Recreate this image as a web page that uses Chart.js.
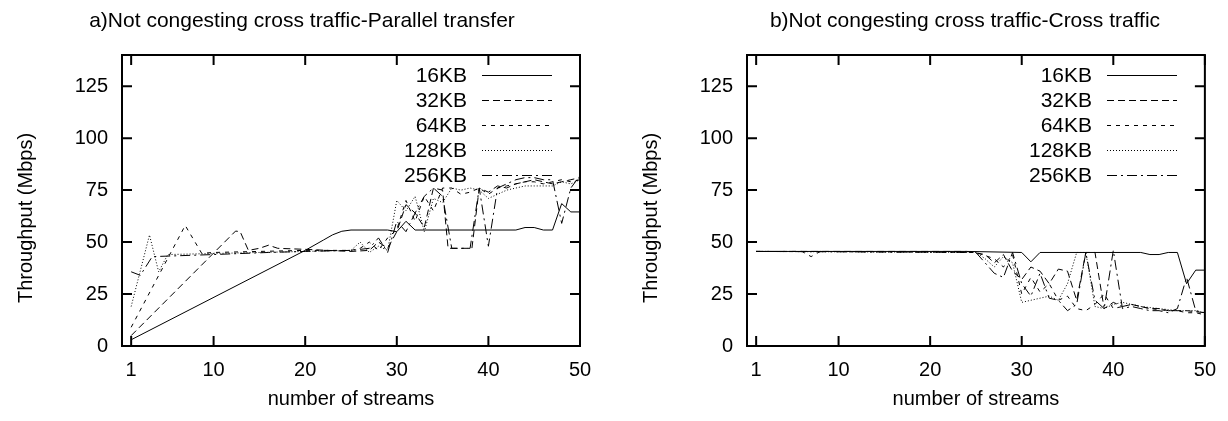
<!DOCTYPE html>
<html>
<head>
<meta charset="utf-8">
<script src="https://cdn.jsdelivr.net/npm/chart.js@4.4.1/dist/chart.umd.min.js"></script>
<style>
  html, body { margin: 0; padding: 0; background: #fff; overflow: hidden; }
  canvas { position: absolute; top: 0; }
  #parallelChart { left: 0; }
  #crossChart { left: 614px; }
</style>
</head>
<body>
<canvas id="parallelChart" width="614" height="421"></canvas>
<canvas id="crossChart" width="614" height="421"></canvas>
<script>
// ticks and series names
const xTicks = [1, 10, 20, 30, 40, 50];
const yTicks = [0, 25, 50, 75, 100, 125];
const seriesNames = ['16KB', '32KB', '64KB', '128KB', '256KB'];

// a) parallel transfer
const parX16 = [1, 20, 22, 23, 24, 25, 29, 30, 31, 32, 43, 44, 45, 46, 47, 48, 49, 50];
const parY16 = [3, 46, 51, 53.5, 55.2, 55.8, 55.8, 55, 60, 55.8, 55.8, 57, 57, 55.8, 55.8, 68.5, 64.5, 64.5];
const parX32 = [1, 12.4, 12.9, 13.8, 15, 16, 17, 20, 25, 27, 28, 29, 30, 31, 32, 33, 34, 35, 35.6, 38.2, 39, 40, 41, 42, 43, 44, 45, 46, 47, 48, 49, 50];
const parY32 = [5, 55.3, 55, 46, 47, 48.5, 47, 46.5, 45.5, 46, 50, 47, 55, 68, 64, 57, 76, 75, 47, 47, 76, 74, 77, 76, 78, 79, 80, 79, 78, 79, 80, 81];
const parX64 = [1, 6.9, 8.7, 10, 20, 25, 26, 27, 28, 29, 30, 31, 32, 33, 34, 35, 36, 37, 38, 39, 40, 41, 42, 43, 44, 45, 46, 47, 48, 49, 50];
const parY64 = [9, 58, 44.6, 45, 46, 46, 47, 50, 46, 52, 56, 70, 60, 72, 65, 76, 76, 73, 74, 76, 73, 76, 77, 78, 79, 79, 78, 79, 80, 79, 80];
const parX128 = [1, 3, 4, 5, 10, 20, 25, 26, 27, 28, 29, 30, 31, 32, 33, 34, 35, 36, 37, 38, 39, 40, 41, 42, 43, 44, 45, 46, 47, 48, 49, 50];
const parY128 = [19, 53.4, 35.7, 44, 44.5, 45.5, 46, 50, 45, 48, 46, 70, 65, 72, 55, 71, 69, 76, 75, 76, 75, 71, 73, 75, 76, 77, 77, 77, 77, 79, 78, 80];
const parX256 = [1, 2, 3.3, 10, 16, 20, 25, 27, 28, 29, 30, 31, 32, 33, 34, 35, 36, 37, 38, 39, 40, 41, 42, 43, 44, 45, 46, 47, 48, 49, 50];
const parY256 = [35.7, 34, 43, 44, 45, 45.5, 46, 47, 52, 45, 60, 55, 64, 72, 76, 72, 47, 47, 47, 76, 48, 76, 78, 80, 81, 81, 80, 80, 59, 76, 82];

// b) cross traffic
const crsX16 = [1, 24, 30, 31, 32, 43, 44, 45, 46, 47, 48, 49, 50];
const crsY16 = [45.5, 45.5, 45, 40.5, 45, 45, 44, 44, 45, 45, 30, 36.5, 36.5];
const crsX32 = [1, 24, 26, 27, 28, 29, 30, 31, 32, 33, 34, 35, 36, 37, 38, 39, 40, 41, 42, 43, 44, 45, 46, 47, 48, 49, 50];
const crsY32 = [45.5, 45.5, 44, 40, 44, 36, 32, 38, 36, 30, 37, 36, 22, 45, 45, 18, 21, 19, 20, 19, 18, 18, 17, 17, 17, 16.5, 16];
const crsX64 = [1, 6, 7, 8, 25, 27, 28, 29, 30, 31, 32, 33, 34, 35, 36, 37, 38, 39, 40, 41, 42, 43, 44, 45, 46, 47, 48, 49, 50];
const crsY64 = [45.5, 45.5, 43, 45.5, 45, 42, 38, 44, 25, 33, 26, 30, 22, 24, 18, 17, 20, 25, 18, 19, 20, 19, 18, 17.5, 17, 17, 16, 16, 15];
const crsX128 = [1, 25, 26, 27, 28, 29, 30, 31, 32, 33, 34, 35, 36, 37, 38, 39, 40, 41, 42, 43, 44, 45, 46, 47, 48, 49, 50];
const crsY128 = [45.5, 45, 42, 38, 43, 40, 21, 22, 23, 24, 22, 30, 45, 45, 19, 18, 20, 21, 20, 19, 18.5, 18, 17.5, 17, 17, 17, 16];
const crsX256 = [1, 25, 26, 27, 28, 29, 30, 31, 32, 33, 34, 35, 36, 37, 38, 39, 40, 41, 42, 43, 44, 45, 46, 47, 48, 49, 50];
const crsY256 = [45.5, 45, 40, 35, 33, 45, 30, 24, 35, 23, 22, 17, 20, 45, 22, 18, 46, 18, 19, 18, 17, 17, 16, 18, 33, 17, 16];

const dashes = [[], [7, 4], [4, 5], [1, 2], [10, 4, 2, 4]];
const FONT = '"Liberation Sans", Arial, Helvetica, sans-serif';

function toPoints(xs, ys) {
    return xs.map((x, i) => ({ x: x, y: ys[i] }));
}

function buildDatasets(xsList, ysList) {
    return seriesNames.map((name, i) => ({
        label: name,
        data: toPoints(xsList[i], ysList[i]),
        borderColor: '#000',
        borderWidth: 1,
        borderDash: dashes[i],
        pointRadius: 0,
        fill: false,
        tension: 0
    }));
}

// frame with mirrored inward ticks, key, title and y label like gnuplot
const gnuplotLook = {
    id: 'gnuplotLook',
    afterDatasetsDraw(chart, args, opts) {
        const { ctx, chartArea: a, scales } = chart;
        ctx.save();
        ctx.strokeStyle = '#000';
        ctx.setLineDash([]);
        ctx.lineWidth = 2;
        ctx.strokeRect(a.left, a.top, a.right - a.left, a.bottom - a.top);
        ctx.beginPath();
        xTicks.forEach(v => {
            const px = scales.x.getPixelForValue(v);
            ctx.moveTo(px, a.bottom); ctx.lineTo(px, a.bottom - 10);
            ctx.moveTo(px, a.top); ctx.lineTo(px, a.top + 10);
        });
        yTicks.forEach(v => {
            const py = scales.y.getPixelForValue(v);
            ctx.moveTo(a.left, py); ctx.lineTo(a.left + 10, py);
            ctx.moveTo(a.right, py); ctx.lineTo(a.right - 10, py);
        });
        ctx.stroke();

        // key
        ctx.font = '21px ' + FONT;
        ctx.fillStyle = '#000';
        ctx.textAlign = 'right';
        ctx.textBaseline = 'middle';
        ctx.lineWidth = 1;
        chart.data.datasets.forEach((ds, i) => {
            const yy = a.top + 20 + i * 25;
            ctx.fillText(ds.label, a.left + 345, yy + 1);
            ctx.setLineDash(ds.borderDash || []);
            ctx.beginPath();
            ctx.moveTo(a.left + 360, yy + 0.5);
            ctx.lineTo(a.left + 430, yy + 0.5);
            ctx.stroke();
        });
        ctx.setLineDash([]);

        // title
        ctx.textAlign = 'center';
        ctx.fillText(opts.title, opts.titleX, 21);

        // y axis label
        ctx.font = '20px ' + FONT;
        ctx.translate(a.left - 96, 218);
        ctx.rotate(-Math.PI / 2);
        ctx.fillText('Throughput (Mbps)', 0, 0);
        ctx.restore();
    }
};

function makeChart(canvasId, datasets, title, titleX, plotLeft, plotRight) {
    return new Chart(document.getElementById(canvasId), {
        type: 'line',
        data: { datasets: datasets },
        options: {
            responsive: false,
            animation: false,
            devicePixelRatio: 1,
            layout: { padding: { top: 55, right: 614 - plotRight, left: 0, bottom: 0 } },
            plugins: {
                legend: { display: false },
                tooltip: { enabled: false },
                gnuplotLook: { title: title, titleX: titleX }
            },
            scales: {
                x: {
                    type: 'linear',
                    min: 0,
                    max: 50,
                    afterBuildTicks: s => { s.ticks = xTicks.map(v => ({ value: v })); },
                    afterFit: s => { s.height = 75; },
                    grid: { display: false, drawTicks: false },
                    border: { display: false },
                    ticks: { color: '#000', font: { family: FONT, size: 20 }, padding: 12, maxRotation: 0, autoSkip: false },
                    title: { display: true, text: 'number of streams', color: '#000', font: { family: FONT, size: 20 }, padding: { top: 0, bottom: 10 } }
                },
                y: {
                    min: 0,
                    max: 140,
                    afterBuildTicks: s => { s.ticks = yTicks.map(v => ({ value: v })); },
                    afterFit: s => { s.width = plotLeft; },
                    grid: { display: false, drawTicks: false },
                    border: { display: false },
                    ticks: { color: '#000', font: { family: FONT, size: 20 }, padding: 14 }
                }
            }
        },
        plugins: [gnuplotLook]
    });
}

makeChart('parallelChart',
    buildDatasets([parX16, parX32, parX64, parX128, parX256], [parY16, parY32, parY64, parY128, parY256]),
    'a)Not congesting cross traffic-Parallel transfer', 302, 122, 580);

makeChart('crossChart',
    buildDatasets([crsX16, crsX32, crsX64, crsX128, crsX256], [crsY16, crsY32, crsY64, crsY128, crsY256]),
    'b)Not congesting cross traffic-Cross traffic', 351, 133, 591);
</script>
</body>
</html>
